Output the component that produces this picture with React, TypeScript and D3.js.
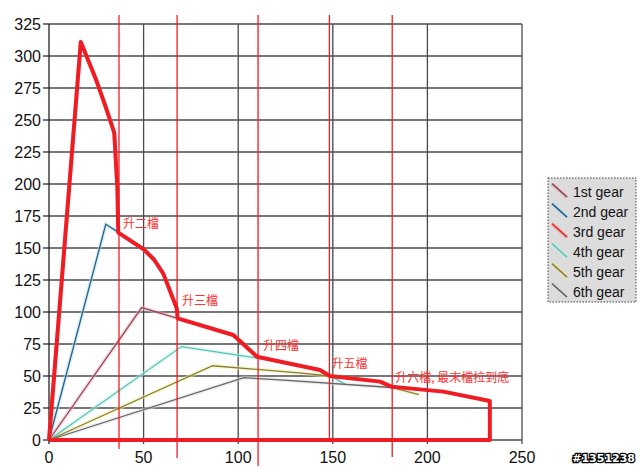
import * as d3 from 'd3'

// speed (x) vs traction (y)
const gear1: [number, number][] = [[0, 0], [49, 103.5], [68, 95], [97.5, 82], [110, 65]]
const gear2: [number, number][] = [[0, 0], [30, 168.5], [37, 162], [50, 149], [55.5, 141], [60.5, 130], [67.5, 103]]
const gear3: [number, number][] = [[0, 0], [16.8, 311], [25, 281], [30, 260], [34.5, 240], [36.2, 198]]
const gear4: [number, number][] = [[0, 0], [70, 73], [110, 64], [143, 55], [148.5, 50.5], [156.5, 43.5]]
const gear5: [number, number][] = [[0, 0], [86.5, 58], [132, 52.5], [148.5, 50], [175, 45.5], [181.5, 41], [195.5, 35.5]]
const gear6: [number, number][] = [[0, 0], [103, 48.7], [122, 47], [181, 41], [208.5, 38], [233, 30.5]]

// hand-drawn envelope
const envelope: [number, number][] = [
  [0, 0], [16.8, 311], [25, 281], [30, 260], [34.5, 240], [36.1, 198], [36.6, 162], [50, 149],
  [55.5, 141], [60.4, 130], [67.5, 103], [68, 95], [97.4, 82], [110, 65], [143.2, 54.7],
  [148.5, 50], [175, 45.6], [181, 41.7], [208.4, 37.8], [233, 30.5], [233, 0], [0, 0],
]

const shiftSpeeds = [37, 67.7, 110.5, 148.2, 181.4]
const shiftLabels = ['升二檔', '升三檔', '升四檔', '升五檔', '升六檔, 最末檔拉到底']
const shiftLabelY = [169, 109, 74, 60, 49]

const seriesNames = ['1st gear', '2nd gear', '3rd gear', '4th gear', '5th gear', '6th gear']
const seriesData = [gear1, gear2, gear3, gear4, gear5, gear6]

const xTicks = [0, 50, 100, 150, 200, 250]
const yTicks = d3.range(0, 326, 25)

const LINE_COLORS = ['#8e4a5a', '#2b5f8a', '#e03030', '#5cc0b0', '#8a7e3a', '#666666']
const GLOW_COLORS = ['#f4b6c0', '#aee0ee', '#f8a0a0', '#c0f4ee', '#f4f0a0', '#dddddd']
const SHIFT_BOTTOM = [9, 18, 26, 2, 17]
const SHIFT_DX = [4, 5, 5, 2, 3]

export default function App() {
  if (typeof document !== 'undefined') document.body.style.margin = '0'

  const width = 640
  const height = 469
  const x = d3.scaleLinear().domain([0, 250]).range([49, 522])
  const y = d3.scaleLinear().domain([0, 325]).range([440, 24])
  const line = d3.line<[number, number]>().x(d => x(d[0])).y(d => y(d[1]))

  return (
    <svg width={width} height={height} style={{ display: 'block', background: '#fff' }}>
      {/* grid */}
      {yTicks.map(t => (
        <line key={'h' + t} x1={43} x2={x(250)} y1={y(t)} y2={y(t)} stroke="#4a4a4a" strokeWidth={1.3} />
      ))}
      {xTicks.map(t => (
        <line key={'v' + t} x1={x(t)} x2={x(t)} y1={y(325)} y2={y(0) + 4} stroke={t === 0 ? '#222' : '#4a4a4a'} strokeWidth={1.3} />
      ))}

      {/* tick labels */}
      {yTicks.map(t => (
        <text key={'yl' + t} x={41} y={y(t)} dy="0.36em" textAnchor="end"
          fontFamily="Liberation Sans, Arial, sans-serif" fontSize={16} fill="#111">{t}</text>
      ))}
      {xTicks.map(t => (
        <text key={'xl' + t} x={x(t)} y={463} textAnchor="middle"
          fontFamily="Liberation Sans, Arial, sans-serif" fontSize={16} fill="#111">{t}</text>
      ))}

      {/* gear series with soft glow */}
      {seriesData.map((d, i) => (
        <path key={'g' + i} d={line(d) ?? ''} fill="none" stroke={GLOW_COLORS[i]} strokeWidth={4} strokeOpacity={0.5} />
      ))}
      {seriesData.map((d, i) => (
        <path key={'s' + i} d={line(d) ?? ''} fill="none" stroke={LINE_COLORS[i]} strokeWidth={1.3} />
      ))}

      {/* shift markers */}
      {shiftSpeeds.map((s, i) => (
        <line key={'sh' + i} x1={x(s)} x2={x(s)} y1={y(325) - 9} y2={y(0) + SHIFT_BOTTOM[i]} stroke="#ee1c24" strokeWidth={1.3} />
      ))}

      <path d={line(envelope) ?? ''} fill="none" stroke="#f01c24" strokeWidth={4} strokeLinejoin="round" />

      {shiftLabels.map((l, i) => (
        <text key={'sl' + i} x={x(shiftSpeeds[i]) + SHIFT_DX[i]} y={y(shiftLabelY[i])} dy="0.36em"
          fontFamily="Noto Sans CJK TC, Noto Sans CJK SC, sans-serif" fontSize={12} fill="#ff3030">{l}</text>
      ))}

      {/* legend */}
      <rect x={548} y={178} width={88} height={124} fill="#dcdcdc" stroke="#444" strokeDasharray="1.5,1.5" />
      {seriesNames.map((n, i) => {
        const cy = 191.7 + i * 20
        return (
          <g key={'lg' + i}>
            <line x1={552} y1={cy - 8} x2={567} y2={cy + 5.5} stroke={GLOW_COLORS[i]} strokeWidth={4} strokeOpacity={0.6} />
            <line x1={552} y1={cy - 8} x2={567} y2={cy + 5.5} stroke={LINE_COLORS[i]} strokeWidth={1.6} />
            <text x={573} y={cy} dy="0.36em" fontFamily="Liberation Sans, Arial, sans-serif" fontSize={14} fill="#111">{n}</text>
          </g>
        )
      })}

      <text x={635} y={462} textAnchor="end" fontFamily="DejaVu Sans, sans-serif" fontSize={11} fontWeight="bold"
        fill="#fff" stroke="#000" strokeWidth={2.5} paintOrder="stroke">#1351238</text>
    </svg>
  )
}
